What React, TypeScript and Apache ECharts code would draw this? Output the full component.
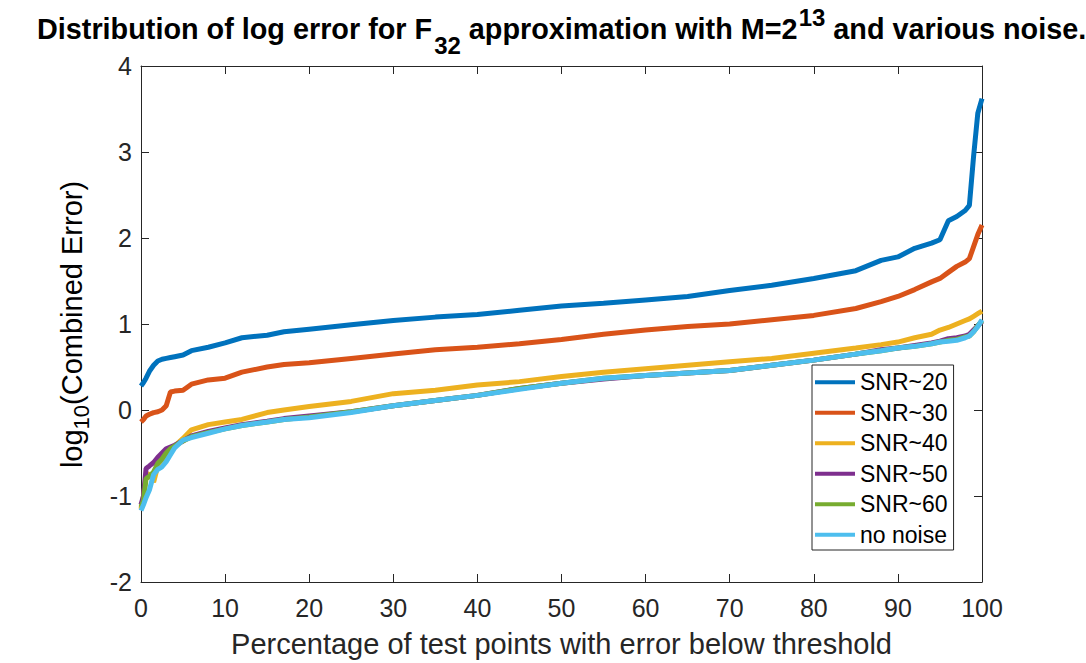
import React, { useEffect, useRef } from "react";
import * as echarts from "echarts";

// Percentage of test points (x positions of the sampled curve points)
const pct = [0, 0.3, 0.6, 1, 1.5, 2, 2.5, 3, 3.5, 4, 5, 6, 8, 10, 12, 15, 17, 20, 25, 30, 35, 40, 45, 50, 55, 60, 65, 70, 75, 80, 85, 88, 90, 92, 94, 95, 96, 97, 98, 98.5, 99, 99.5, 100];

const snr20 = [0.28, 0.32, 0.37, 0.45, 0.52, 0.57, 0.59, 0.6, 0.61, 0.62, 0.64, 0.69, 0.73, 0.78, 0.84, 0.87, 0.91, 0.94, 0.99, 1.04, 1.08, 1.11, 1.16, 1.21, 1.24, 1.28, 1.32, 1.39, 1.45, 1.53, 1.62, 1.74, 1.78, 1.88, 1.94, 1.98, 2.2, 2.25, 2.32, 2.38, 2.95, 3.45, 3.62];
const snr30 = [-0.14, -0.11, -0.07, -0.05, -0.03, -0.02, 0.0, 0.05, 0.21, 0.22, 0.23, 0.3, 0.35, 0.37, 0.44, 0.5, 0.53, 0.55, 0.6, 0.65, 0.7, 0.73, 0.77, 0.82, 0.88, 0.93, 0.97, 1.0, 1.05, 1.1, 1.18, 1.26, 1.32, 1.4, 1.49, 1.53, 1.6, 1.67, 1.72, 1.76, 1.9, 2.04, 2.15];
const snr40 = [-1.15, -1.0, -0.76, -0.74, -0.84, -0.65, -0.6, -0.53, -0.48, -0.42, -0.33, -0.23, -0.17, -0.14, -0.11, -0.03, 0.0, 0.04, 0.1, 0.19, 0.23, 0.29, 0.33, 0.39, 0.44, 0.48, 0.52, 0.56, 0.6, 0.66, 0.72, 0.76, 0.79, 0.84, 0.88, 0.93, 0.96, 1.0, 1.04, 1.06, 1.09, 1.12, 1.15];
const snr50 = [-1.1, -1.0, -0.68, -0.65, -0.61, -0.55, -0.5, -0.45, -0.43, -0.41, -0.36, -0.3, -0.25, -0.21, -0.17, -0.13, -0.1, -0.07, -0.02, 0.05, 0.11, 0.17, 0.25, 0.31, 0.36, 0.4, 0.43, 0.46, 0.52, 0.58, 0.65, 0.7, 0.72, 0.75, 0.78, 0.8, 0.83, 0.84, 0.86, 0.88, 0.93, 0.98, 1.03];
const snr60 = [-1.13, -1.05, -0.8, -0.77, -0.72, -0.62, -0.57, -0.5, -0.45, -0.42, -0.36, -0.31, -0.26, -0.22, -0.18, -0.14, -0.11, -0.08, -0.02, 0.05, 0.11, 0.17, 0.25, 0.31, 0.37, 0.4, 0.43, 0.46, 0.52, 0.58, 0.65, 0.69, 0.72, 0.74, 0.77, 0.79, 0.81, 0.82, 0.85, 0.86, 0.91, 0.98, 1.04];
const noNoise = [-1.17, -1.1, -1.02, -0.93, -0.75, -0.69, -0.66, -0.6, -0.52, -0.44, -0.35, -0.32, -0.27, -0.22, -0.18, -0.14, -0.11, -0.09, -0.03, 0.05, 0.11, 0.17, 0.24, 0.31, 0.37, 0.4, 0.43, 0.46, 0.52, 0.58, 0.65, 0.69, 0.72, 0.74, 0.77, 0.79, 0.8, 0.81, 0.84, 0.86, 0.91, 0.97, 1.05];

const seriesNames = ["SNR~20", "SNR~30", "SNR~40", "SNR~50", "SNR~60", "no noise"];
const seriesValues = [snr20, snr30, snr40, snr50, snr60, noNoise];
const seriesColors = ["#0072BD", "#D95319", "#EDB120", "#7E2F8E", "#77AC30", "#4DBEEE"];

const xTicks = { min: 0, max: 100, interval: 10 };
const yTicks = { min: -2, max: 4, interval: 1 };

const FONT = '"Liberation Sans", Arial, Helvetica, sans-serif';
const AX = "#262626";

function measure(text: string, size: number, weight: string) {
  const ctx = document.createElement("canvas").getContext("2d");
  if (!ctx) return text.length * size * 0.55;
  ctx.font = `${weight} ${size}px ${FONT}`;
  return ctx.measureText(text).width;
}

function buildPieces(
  pieces: { t: string; s: number; dy: number; gap?: number }[],
  weight: string,
  startX: number
) {
  let x = startX;
  const out: any[] = [];
  pieces.forEach((p) => {
    x += p.gap || 0;
    out.push({
      type: "text",
      x,
      y: p.dy,
      style: {
        text: p.t,
        fontSize: p.s,
        fontWeight: weight,
        fontFamily: FONT,
        fill: "#000",
        align: "left",
        verticalAlign: "middle",
      },
    });
    x += measure(p.t, p.s, weight);
  });
  return { children: out, width: x - startX };
}

export default function App() {
  const ref = useRef<HTMLDivElement>(null);

  useEffect(() => {
    document.body.style.margin = "0";
    if (!ref.current) return;
    const chart = echarts.init(ref.current, undefined, { renderer: "svg" });

    const title = buildPieces(
      [
        { t: "Distribution of log error for F", s: 28.8, dy: 0 },
        { t: "32", s: 24, dy: 16, gap: 2 },
        { t: " approximation with M=2", s: 28.8, dy: 0 },
        { t: "13", s: 24, dy: -12, gap: 1 },
        { t: " and various noise.", s: 28.8, dy: 0 },
      ],
      "bold",
      0
    );

    const yPieces = [
      { t: "log", s: 29, dy: 0 },
      { t: "10", s: 22, dy: 9 },
      { t: "(Combined Error)", s: 29, dy: 0 },
    ];
    const yLabelTmp = buildPieces(yPieces, "normal", 0);
    const yLabel = buildPieces(yPieces, "normal", -yLabelTmp.width / 2);

    const axisCommon = {
      type: "value" as const,
      axisLine: { show: true, onZero: false, lineStyle: { color: AX, width: 1 } },
      axisTick: { show: true, inside: true, length: 8, lineStyle: { color: AX, width: 1 } },
      splitLine: { show: false },
    };

    const option: any = {
      animation: false,
      backgroundColor: "#fff",
      grid: { left: 141, right: 104, top: 66, bottom: 80, containLabel: false },
      xAxis: [
        {
          ...axisCommon,
          position: "bottom",
          ...xTicks,
          axisLabel: { show: true, fontSize: 25, color: AX, margin: 13, fontFamily: FONT },
          name: "Percentage of test points with error below threshold",
          nameLocation: "middle",
          nameGap: 47,
          nameTextStyle: { fontSize: 29, color: AX, fontFamily: FONT },
        },
        {
          ...axisCommon,
          position: "top",
          ...xTicks,
          axisLabel: { show: false },
        },
      ],
      yAxis: [
        {
          ...axisCommon,
          position: "left",
          ...yTicks,
          axisLabel: { show: true, fontSize: 25, color: AX, margin: 9, fontFamily: FONT },
        },
        {
          ...axisCommon,
          position: "right",
          ...yTicks,
          axisLabel: { show: false },
        },
      ],
      legend: {
        orient: "vertical",
        left: 812,
        top: 365,
        padding: [5, 6, 3, 3],
        itemGap: 6,
        itemWidth: 40,
        itemHeight: 4,
        icon: "rect",
        selectedMode: false,
        borderColor: AX,
        borderWidth: 1,
        backgroundColor: "#fff",
        textStyle: { fontSize: 23, color: "#000", fontFamily: FONT, lineHeight: 24.5 },
        data: seriesNames,
      },
      graphic: [
        { type: "group", x: 37, y: 29, children: title.children },
        { type: "group", x: 72, y: 324.5, rotation: Math.PI / 2, children: yLabel.children },
      ],
      series: seriesNames.map((name, i) => ({
        name,
        type: "line",
        xAxisIndex: 0,
        yAxisIndex: 0,
        showSymbol: false,
        symbol: "none",
        color: seriesColors[i],
        lineStyle: { width: 5, color: seriesColors[i] },
        data: pct.map((x, j) => [x, seriesValues[i][j]]),
      })),
    };

    chart.setOption(option);
    return () => chart.dispose();
  }, []);

  return <div ref={ref} style={{ width: 1086, height: 663 }} />;
}
